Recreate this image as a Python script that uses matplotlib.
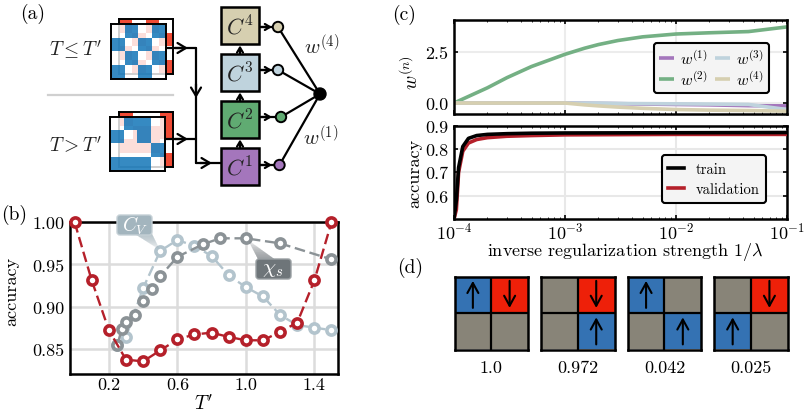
import numpy as np
import matplotlib
matplotlib.use("Agg")
import matplotlib.pyplot as plt
from matplotlib.colors import ListedColormap, to_rgba
from matplotlib.patches import Circle, Rectangle, FancyBboxPatch, Polygon

plt.rcParams.update({
    "font.family": ["cmr10", "DejaVu Serif"],
    "mathtext.fontset": "cm",
    "axes.unicode_minus": False,
    "axes.formatter.use_mathtext": True,
    "font.size": 12,
})

# ---------- data ----------
T_red = [0, .1, .2, .3, .4, .5, .6, .7, .8, .9, 1.0, 1.1, 1.2, 1.3, 1.4, 1.5]
acc_red = [1.0, .931, .872, .837, .835, .848, .861, .867, .869, .864, .860, .860, .870, .881, .931, 1.0]
T_cv = [.25, .3, .4, .5, .6, .7, .8, .9, 1.0, 1.1, 1.2, 1.3, 1.4, 1.5]
acc_cv = [.855, .864, .922, .966, .979, .972, .960, .937, .923, .912, .890, .878, .875, .872]
T_chi = [.25, .275, .3, .35, .4, .45, .5, .6, .75, .85, 1.0, 1.2, 1.5]
acc_chi = [.855, .873, .882, .890, .907, .921, .936, .959, .974, .981, .981, .975, .956]

lam = [1e-4, 2e-4, 3e-4, 5e-4, 1e-3, 1.5e-3, 2e-3, 3e-3, 5e-3, 1e-2, 2e-2, 4.5e-2, 1e-1]
w1 = [0, 0, 0, 0, 0, -.01, -.02, -.03, -.05, -.07, -.09, -.13, -.14]
w2 = [0, .75, 1.25, 1.8, 2.4, 2.7, 2.88, 3.08, 3.26, 3.4, 3.46, 3.52, 3.75]
w3 = [0, 0, 0, 0, 0, 0, 0, -.02, -.03, -.04, -.05, -.07, -.32]
w4 = [0, 0, 0, 0, 0, -.09, -.14, -.2, -.26, -.32, -.35, -.37, -.4]

lam_acc = [1e-4, 1.05e-4, 1.1e-4, 1.2e-4, 1.35e-4, 1.6e-4, 2e-4, 3e-4, 5e-4, 1e-3, 1e-2, 1e-1]
acc_train = [.50, .58, .72, .81, .845, .857, .862, .865, .867, .868, .869, .87]
acc_val = [.50, .54, .70, .79, .825, .84, .848, .854, .857, .86, .862, .862]

tile_patterns = [[[1, -1], [0, 0]], [[0, -1], [0, 1]], [[1, 0], [0, 1]], [[0, -1], [1, 0]]]
tile_labels = ["1.0", "0.972", "0.042", "0.025"]

front_low = [[0, 1, 0, 1], [1, 0, 1, 0], [0, 1, 0, 1], [1, 0, 1, 0]]
back_low = [[1, 0, 1, 0], [0, 1, 0, 1], [1, 0, 1, 0], [0, 1, 0, 1]]
front_high = [[0, 1, 1, 0], [1, 0, 1, 0], [0, 0, 0, 1], [1, 1, 1, 0]]
back_high = [[1, 0, 0, 1], [0, 1, 1, 1], [1, 1, 1, 0], [0, 0, 0, 1]]

PURPLE, GREEN, LBLUE, TAN = "#a476bc", "#60ab72", "#bfd3dd", "#d6cfb0"
RED, CV, CHI = "#b5202a", "#b3c4cd", "#8b9296"
W, H = 806, 414

fig = plt.figure(figsize=(W / 100, H / 100), dpi=100)


def axpx(l, t, r, b, **kw):
    return fig.add_axes([l / W, 1 - b / H, (r - l) / W, (b - t) / H], **kw)


def style(ax, lw=1.8):
    for s in ax.spines.values():
        s.set_linewidth(lw)
    ax.tick_params(which="both", direction="in", top=True, right=True, width=1.2, pad=4)
    ax.tick_params(which="major", length=3, labelsize=13)
    ax.tick_params(which="minor", length=1.5, width=.6)


# ---------- (b) ----------
ax = axpx(70, 223.3, 338, 375)
style(ax)
ax.set_xlim(-.027, 1.538)
ax.set_ylim(.82, 1.0)
ax.set_xticks([.2, .6, 1.0, 1.4])
ax.set_xticklabels(["0.2", "0.6", "1.0", "1.4"])
ax.set_yticks([.85, .9, .95, 1.0])
ax.set_yticklabels(["0.85", "0.90", "0.95", "1.00"])
ax.tick_params(length=0)
ax.tick_params(axis="x", pad=2)
ax.grid(color="#dcdcdc", lw=1.8)
ax.set_axisbelow(True)
mk = dict(marker="o", ms=6.6, mfc="white", mew=2.6, lw=1.7, dashes=(4.5, 2), clip_on=False)
ax.plot(T_cv, acc_cv, color=CV, mec=CV, zorder=3, **mk)
ax.plot(T_chi, acc_chi, color=CHI, mec=CHI, zorder=4, **mk)
ax.plot(T_red, acc_red, color=RED, mec=RED, zorder=5, **mk)
ax.set_xlabel(r"$T'$", fontsize=14)
ax.xaxis.set_label_coords(.5, -.125)
ax.set_ylabel("accuracy", fontsize=13)
ax.yaxis.set_label_coords(-.19, .55)

# ---------- (c) ----------
ax = axpx(454, 21, 787, 115)
style(ax)
ax.set_xscale("log")
ax.set_xlim(1e-4, 1e-1)
ax.set_ylim(-.54, 4.09)
ax.set_yticks([0, 2.5])
ax.set_yticklabels(["0.0", "2.5"])
ax.tick_params(labelbottom=False)
ax.grid(which="major", color="#ececec", lw=1.5)
ax.set_axisbelow(True)
ln = dict(lw=2.6, solid_capstyle="butt")
ax.plot(lam, w1, color=PURPLE, label=r"$w^{(1)}$", **ln)
ax.plot(lam, w2, color="#74b084", label=r"$w^{(2)}$", **ln)
ax.plot(lam, w3, color=LBLUE, label=r"$w^{(3)}$", **ln)
ax.plot(lam, w4, color=TAN, label=r"$w^{(4)}$", **ln)
leg = ax.legend(ncol=2, loc="center", bbox_to_anchor=((711.5 - 454) / 333, 1 - (69 - 21) / 94),
                fontsize=11.5, handlelength=.9, handletextpad=.4, columnspacing=.5, labelspacing=.15,
                borderpad=.35, facecolor="#f4f4f4", edgecolor="k", framealpha=1, fancybox=True)
leg.get_frame().set_linewidth(1.5)
ax.set_ylabel(r"$w^{(n)}$", fontsize=14)
ax.yaxis.set_label_coords(-.095, .45)

ax = axpx(454, 126.5, 787, 220)
style(ax)
ax.set_xscale("log")
ax.set_xlim(1e-4, 1e-1)
ax.set_ylim(.5, .9)
ax.set_yticks([.6, .7, .8, .9])
ax.set_yticklabels(["0.6", "0.7", "0.8", "0.9"])
ax.tick_params(axis="x", which="both", pad=1)
ax.grid(which="major", color="#e8e8e8", lw=1.5)
ax.set_axisbelow(True)
ax.plot(lam_acc, acc_val, color=RED, lw=2.6, label="validation", zorder=3)
ax.plot(lam_acc, acc_train, color="k", lw=2.6, label="train", zorder=4)
h, l = ax.get_legend_handles_labels()
leg = ax.legend(h[::-1], l[::-1], loc="center", bbox_to_anchor=((714 - 454) / 333, 1 - (180 - 126.5) / 93.5),
                fontsize=10.5, handlelength=1.1, handletextpad=.8, labelspacing=.45, borderpad=.45,
                facecolor="#f4f4f4", edgecolor="k", framealpha=1, fancybox=True)
leg.get_frame().set_linewidth(1.5)
ax.set_xlabel(r"inverse regularization strength $1/\lambda$", fontsize=13, labelpad=1)
ax.xaxis.set_label_coords(.514, -.225)
ax.set_ylabel("accuracy", fontsize=13)
ax.yaxis.set_label_coords(-.095, .5)

# ---------- (d) ----------
tile_cmap = ListedColormap(["#ee2009", "#888478", "#3472b3"])
for i, (pat, lab) in enumerate(zip(tile_patterns, tile_labels)):
    l = 454.5 + i * 86.6
    ax = axpx(l, 277.5, l + 73.5, 350.5)
    ax.imshow(pat, cmap=tile_cmap, vmin=-1, vmax=1, aspect="auto", extent=(0, 2, 2, 0))
    ax.set_xticks([])
    ax.set_yticks([])
    for s in ax.spines.values():
        s.set_linewidth(1.8)
    ax.axhline(1, color="k", lw=1.6)
    ax.axvline(1, color="k", lw=1.6)
    for r in range(2):
        for c in range(2):
            v = pat[r][c]
            if v:
                y0, y1 = (r + .86, r + .12) if v > 0 else (r + .12, r + .86)
                ax.annotate("", xy=(c + .5, y1), xytext=(c + .5, y0),
                            arrowprops=dict(arrowstyle="->,head_length=.6,head_width=.33", lw=1.5,
                                            color="k", shrinkA=0, shrinkB=0))
    ax.set_xlabel(lab, fontsize=13, labelpad=7)


# ---------- (a) lattices ----------
def lattice(pattern, box, on, off, zorder):
    a = axpx(*box, zorder=zorder)
    a.patch.set_alpha(0)
    img = np.array([[to_rgba(*on) if v else to_rgba(*off) for v in row] for row in pattern])
    a.imshow(img, aspect="auto", interpolation="nearest")
    a.set_xticks([])
    a.set_yticks([])
    for s in a.spines.values():
        s.set_linewidth(1.4)


for back, front, bb, fb in [
    (back_low, front_low, (119, 20, 173, 74.5), (111, 25, 165.5, 79.5)),
    (back_high, front_high, (118.5, 113, 173, 167.5), (110.5, 117.5, 165, 172)),
]:
    lattice(back, bb, ("#f04b35", 1), ("white", 1), 5)
    lattice(front, fb, ("#2f86c0", .97), ("white", .82), 6)

# ---------- overlay ----------
ov = fig.add_axes([0, 0, 1, 1], zorder=10)
ov.set_xlim(0, W)
ov.set_ylim(H, 0)
ov.axis("off")
ov.patch.set_alpha(0)

for s, x, y in [("(a)", 33, 14), ("(b)", 14, 215), ("(c)", 404, 15), ("(d)", 410, 268)]:
    ov.text(x, y, s, fontsize=14, ha="center", va="center")
ov.text(75, 50, r"$T \leq T'$", fontsize=14, ha="center", va="center", color="#222222")
ov.text(75, 146, r"$T > T'$", fontsize=14, ha="center", va="center", color="#222222")
ov.text(322, 46, r"$w^{(4)}$", fontsize=15, ha="center", va="center", color="#222222")
ov.text(321, 137, r"$w^{(1)}$", fontsize=15, ha="center", va="center", color="#222222")
ov.plot([48, 173], [96, 96], color="#d0d0d0", lw=1.6)


def seg(p, q, lw=1.6):
    ov.plot([p[0], q[0]], [p[1], q[1]], color="k", lw=lw, solid_capstyle="round")


def head(p, q, size=.35, lw=1.6):
    ov.annotate("", xy=q, xytext=p, arrowprops=dict(arrowstyle=f"->,head_length={size},head_width={size*.6}",
                                                    lw=lw, color="k", shrinkA=0, shrinkB=0))


seg((166, 49), (196, 49))
seg((166, 140), (196, 140))
seg((196, 49), (196, 164))
seg((196, 164), (221, 164))
head((175, 49), (188, 49), .5)
head((175, 140), (188, 140), .5)
head((196, 85), (196, 99), .5)
head((200, 164), (212, 164), .5)

boxes = [(221, 148.5, PURPLE, "1"), (221, 101.5, GREEN, "2"), (221, 54.5, LBLUE, "3"), (221, 8, TAN, "4")]
dots = [(279.5, 166, PURPLE), (281, 118, GREEN), (278, 71, LBLUE), (278, 28, TAN)]
hub = (320, 95)
for (x, y, c, n), (dx, dy, dc) in zip(boxes, dots):
    ov.add_patch(Rectangle((x, y), 38, 37, fc=c, ec="k", lw=1.8, zorder=3))
    ov.text(x + 19, y + 19, rf"$C^{n}$", fontsize=16, ha="center", va="center", zorder=4, color="#222222")
    seg((x + 38, dy), (dx, dy))
    head((x + 40, dy), (x + 51, dy), .3)
    seg((dx, dy), hub)
    ov.add_patch(Circle((dx, dy), 5.2, fc=dc, ec="k", lw=1.4, zorder=5))
for y in (148.5, 101.5, 54.5):
    head((240, y), (240, y - 8), .3)
ov.add_patch(Circle(hub, 6, fc="k", ec="k", zorder=5))

# callouts in (b)
for frac in np.linspace(1, .1, 12):
    tip = np.array([160, 251])
    base = np.array([[135, 235], [152, 235]])
    pts = base + (tip - base) * frac
    ov.add_patch(Polygon([[135, 235], [152, 235], *pts[::-1]], fc="#9fb1ba", ec="none", alpha=.09, zorder=2))
    tip = np.array([248, 241])
    base = np.array([[259, 262], [277, 262]])
    pts = base + (tip - base) * frac
    ov.add_patch(Polygon([[259, 262], [277, 262], *pts[::-1]], fc="#6e7579", ec="none", alpha=.09, zorder=2))
ov.add_patch(FancyBboxPatch((119, 218), 31, 16, boxstyle="round,pad=2,rounding_size=3", fc="#a3b5be", ec="#c5d0d6", lw=1, zorder=6))
ov.text(135, 226, r"$C_V$", fontsize=14, color="white", ha="center", va="center", zorder=7)
ov.add_patch(FancyBboxPatch((258, 262), 31, 16, boxstyle="round,pad=2,rounding_size=3", fc="#6e7579", ec="#9aa0a3", lw=1, zorder=6))
ov.text(273, 270, r"$\chi_s$", fontsize=15, color="white", ha="center", va="center", zorder=7)

fig.savefig("out.png", dpi=100)
